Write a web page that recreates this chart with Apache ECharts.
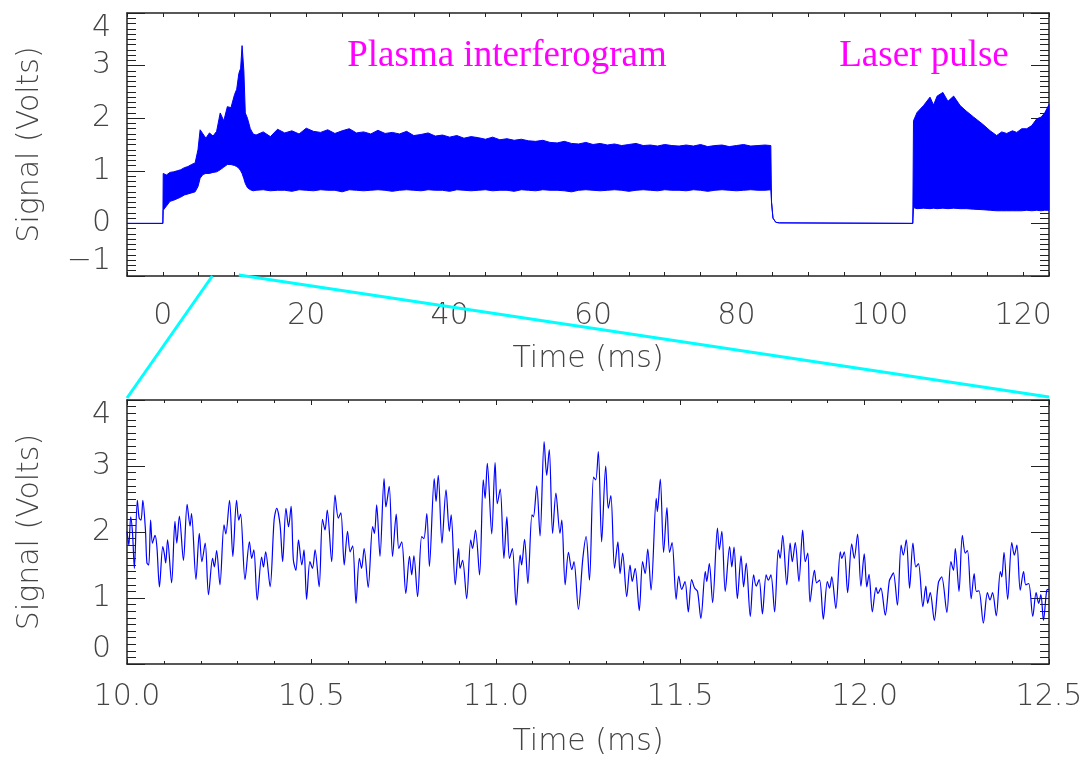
<!DOCTYPE html>
<html>
<head>
<meta charset="utf-8">
<script src="https://cdn.jsdelivr.net/npm/echarts@6/dist/echarts.min.js"></script>
<style>
html, body { margin: 0; background: #fff; }
#chart { width: 1090px; height: 760px; }
</style>
</head>
<body>
<div id="chart"></div>
<script>
// upper panel: envelope of the dense interferogram trace (ms, volts)
var topTime = [-5, 0,
  0.05, 0.5, 1, 1.5, 2, 2.5, 3, 3.5, 4, 4.5, 4.9, 5.2, 5.6, 6, 6.5, 7, 7.5, 8, 8.5, 9, 9.5, 10, 10.3, 10.6, 10.85, 11.05, 11.3, 11.5, 11.8, 12.2, 12.6,
  13, 14, 15, 16, 17, 18, 19, 20, 21, 22, 23, 24, 25, 26, 27, 28, 29, 30, 31, 32,
  33, 34, 35, 36, 37, 38, 39, 40, 41, 42, 43, 44, 45, 46, 47, 48, 49, 50, 51, 52,
  53, 54, 55, 56, 57, 58, 59, 60, 61, 62, 63, 64, 65, 66, 67, 68, 69, 70, 71, 72,
  73, 74, 75, 76, 77, 78, 79, 80, 81, 82, 83, 84, 84.8,
  84.9, 85.1, 85.5, 86, 104.6,
  104.7, 105.2, 106.1, 107, 107.5, 108, 108.8, 109.5, 110.3, 111.2, 112.1, 113.1, 114.4, 115.4, 116.3,
  117, 117.7, 118.5, 119.1, 119.8, 120.5, 121.2, 121.9, 122.5, 123, 123.6];
var topUpper = [0, 0,
  0.95, 0.92, 0.97, 0.98, 1.00, 1.02, 1.06, 1.08, 1.12, 1.15, 1.40, 1.78, 1.70, 1.62, 1.72, 1.66, 1.75, 2.10, 1.95, 2.22, 2.20, 2.45, 2.55, 2.85, 2.95, 3.38, 2.90, 2.10, 2.00, 1.80, 1.70,
  1.68, 1.74, 1.65, 1.79, 1.72, 1.76, 1.70, 1.81, 1.75, 1.73, 1.78, 1.71, 1.76, 1.80, 1.72, 1.74, 1.70, 1.77, 1.71, 1.73,
  1.70, 1.75, 1.67, 1.69, 1.72, 1.66, 1.68, 1.64, 1.67, 1.62, 1.65, 1.63, 1.60, 1.64, 1.59, 1.61, 1.58, 1.60, 1.57, 1.56,
  1.58, 1.54, 1.53, 1.56, 1.52, 1.51, 1.54, 1.50, 1.52, 1.49, 1.51, 1.48, 1.50, 1.52, 1.48, 1.49, 1.47, 1.50, 1.48, 1.47,
  1.49, 1.47, 1.50, 1.46, 1.48, 1.49, 1.46, 1.48, 1.50, 1.47, 1.48, 1.49, 1.48,
  0.40, 0.10, 0.02, 0.01, 0,
  1.95, 2.11, 2.24, 2.40, 2.25, 2.42, 2.49, 2.32, 2.42, 2.24, 2.13, 2.02, 1.88, 1.76, 1.67,
  1.74, 1.71, 1.76, 1.73, 1.80, 1.80, 1.86, 1.99, 2.02, 2.10, 2.26];
var topLower = [0, 0,
  0.25, 0.33, 0.42, 0.44, 0.47, 0.50, 0.54, 0.56, 0.58, 0.60, 0.70, 0.86, 0.93, 0.95, 0.95, 0.97, 0.98, 1.02, 1.07, 1.12, 1.12, 1.10, 1.08, 1.05, 1.00, 0.95, 0.85, 0.76, 0.68, 0.64, 0.62,
  0.63, 0.64, 0.62, 0.63, 0.63, 0.61, 0.64, 0.63, 0.62, 0.64, 0.63, 0.63, 0.60, 0.64, 0.63, 0.62, 0.63, 0.64, 0.63, 0.61,
  0.63, 0.64, 0.63, 0.62, 0.64, 0.63, 0.63, 0.61, 0.64, 0.63, 0.62, 0.63, 0.64, 0.62, 0.63, 0.63, 0.61, 0.64, 0.63, 0.62,
  0.64, 0.63, 0.63, 0.62, 0.60, 0.63, 0.64, 0.63, 0.62, 0.63, 0.64, 0.63, 0.61, 0.63, 0.64, 0.63, 0.62, 0.64, 0.63, 0.63,
  0.62, 0.64, 0.63, 0.61, 0.63, 0.64, 0.63, 0.62, 0.63, 0.64, 0.63, 0.63, 0.64,
  0.40, 0.10, 0.02, 0.01, 0,
  0.30, 0.28, 0.29, 0.28, 0.29, 0.28, 0.29, 0.28, 0.29, 0.28, 0.28, 0.27, 0.26, 0.25, 0.24,
  0.24, 0.24, 0.24, 0.24, 0.24, 0.25, 0.24, 0.25, 0.24, 0.25, 0.25];

// lower panel: zoom on 10.0 - 12.5 ms
var zoomTime = [
  10.000, 10.005, 10.010, 10.015, 10.020, 10.028, 10.033, 10.038, 10.043, 10.050,
  10.054, 10.059, 10.064, 10.069, 10.076, 10.081, 10.088, 10.097, 10.101, 10.105,
  10.110, 10.121, 10.130, 10.135, 10.142, 10.153, 10.163, 10.171, 10.175, 10.187,
  10.196, 10.203, 10.212, 10.221, 10.232, 10.237, 10.243, 10.252, 10.263, 10.268,
  10.278, 10.287, 10.297, 10.303, 10.308, 10.320, 10.332, 10.338, 10.344, 10.353,
  10.365, 10.370, 10.376, 10.388, 10.399, 10.406, 10.415, 10.422, 10.431, 10.438,
  10.445, 10.451, 10.458, 10.465, 10.474, 10.480, 10.487, 10.496, 10.503, 10.510,
  10.521, 10.530, 10.537, 10.543, 10.555, 10.564, 10.573, 10.580, 10.589, 10.598,
  10.605, 10.612, 10.621, 10.630, 10.636, 10.643, 10.654, 10.666, 10.671, 10.677,
  10.686, 10.697, 10.702, 10.711, 10.720, 10.730, 10.737, 10.745, 10.756, 10.766,
  10.772, 10.778, 10.788, 10.799, 10.805, 10.813, 10.820, 10.833, 10.838, 10.844,
  10.854, 10.865, 10.874, 10.879, 10.890, 10.899, 10.903, 10.910, 10.921, 10.932,
  10.937, 10.945, 10.956, 10.966, 10.971, 10.977, 10.989, 10.998, 11.004, 11.012,
  11.022, 11.030, 11.037, 11.045, 11.055, 11.066, 11.070, 11.078, 11.087, 11.098,
  11.102, 11.111, 11.120, 11.131, 11.138, 11.145, 11.154, 11.163, 11.174, 11.179,
  11.188, 11.197, 11.206, 11.212, 11.224,
  11.236, 11.245, 11.254, 11.265, 11.271, 11.278, 11.287, 11.298, 11.305, 11.312,
  11.322, 11.331, 11.337, 11.344, 11.355, 11.364, 11.370, 11.378, 11.389, 11.398,
  11.405, 11.412, 11.421, 11.435, 11.438, 11.446, 11.455, 11.464, 11.471, 11.478,
  11.489, 11.496, 11.504, 11.513, 11.522, 11.531, 11.539, 11.547, 11.556, 11.568,
  11.572, 11.579, 11.588, 11.601, 11.606, 11.613, 11.622, 11.634, 11.640, 11.646,
  11.655, 11.665, 11.672, 11.679, 11.690, 11.699, 11.706, 11.714, 11.723, 11.733,
  11.739, 11.746, 11.756, 11.766, 11.771, 11.778, 11.789, 11.798, 11.804, 11.812,
  11.822, 11.832, 11.839, 11.846,
  11.852, 11.864, 11.870, 11.878, 11.888, 11.899, 11.905, 11.911, 11.922, 11.934,
  11.938, 11.945, 11.954, 11.965, 11.972, 11.981, 11.990, 11.999, 12.006, 12.012,
  12.021, 12.031, 12.036, 12.044, 12.056, 12.067, 12.072, 12.078, 12.089, 12.099,
  12.105, 12.113, 12.122, 12.131, 12.139, 12.146, 12.158, 12.166, 12.171, 12.178,
  12.189, 12.200, 12.209, 12.223, 12.234, 12.241, 12.246, 12.256, 12.265, 12.273,
  12.279, 12.289, 12.297, 12.303, 12.310, 12.322, 12.333, 12.340, 12.347, 12.357,
  12.368, 12.372, 12.378, 12.388, 12.399, 12.406, 12.413, 12.422, 12.431, 12.437,
  12.445, 12.456, 12.465, 12.472, 12.478, 12.485, 12.494, 12.500];
var zoomSignal = [
  2.01, 1.80, 2.23, 1.98, 1.45, 2.48, 2.21, 2.18, 2.48, 2.03,
  1.53, 1.50, 2.18, 1.83, 1.95, 1.78, 1.17, 1.78, 1.68, 1.53,
  1.88, 1.23, 2.16, 1.83, 2.24, 1.57, 2.42, 2.09, 2.28, 1.28,
  1.98, 1.55, 1.83, 1.05, 1.60, 1.47, 1.72, 1.20, 2.11, 1.97,
  2.48, 1.63, 2.48, 2.18, 2.27, 1.28, 1.85, 1.60, 1.73, 0.97,
  1.62, 1.47, 1.70, 1.17, 2.19, 2.36, 2.11, 1.55, 2.36, 2.08,
  2.39, 1.58, 1.42, 1.88, 1.50, 1.73, 0.98, 1.55, 1.45, 1.73,
  1.17, 2.19, 2.03, 2.33, 1.55, 2.56, 2.21, 2.29, 1.50, 2.01,
  1.70, 1.79, 0.92, 1.60, 1.45, 1.75, 1.16, 2.08, 1.98, 2.41,
  1.63, 2.81, 2.38, 2.69, 1.63, 2.27, 1.75, 1.85, 1.07, 1.63,
  1.35, 1.64, 1.02, 1.93, 1.90, 2.28, 1.48, 2.81, 2.46, 2.86,
  1.83, 2.64, 2.01, 2.26, 1.20, 1.75, 1.45, 1.57, 0.99, 1.88,
  1.75, 2.03, 1.35, 2.79, 2.51, 3.04, 1.97, 3.05, 2.43, 2.65,
  1.60, 2.23, 1.60, 1.75, 0.89, 1.65, 1.50, 1.89, 1.22, 2.26,
  2.23, 2.70, 1.94, 3.37, 2.86, 3.25, 1.98, 2.59, 1.98, 2.18,
  1.20, 1.69, 1.43, 1.55, 0.83,
  1.60, 1.93, 1.27, 2.83, 2.79, 3.22, 1.85, 3.00, 2.36, 2.55,
  1.45, 1.85, 1.37, 1.68, 1.02, 1.50, 1.25, 1.45, 0.81, 1.55,
  1.37, 1.74, 1.12, 2.51, 2.31, 2.80, 1.69, 2.37, 1.69, 1.84,
  0.98, 1.33, 1.13, 1.25, 0.79, 1.28, 1.15, 1.10, 0.69, 1.40,
  1.25, 1.52, 0.93, 2.06, 1.73, 2.01, 1.10, 1.78, 1.47, 1.77,
  0.99, 1.64, 1.17, 1.53, 0.72, 1.35, 1.18, 1.28, 0.76, 1.35,
  1.27, 1.35, 0.79, 1.73, 1.60, 1.95, 1.20, 1.83, 1.55, 1.84,
  1.25, 2.03, 1.55, 1.68,
  0.94, 1.42, 1.23, 1.27, 0.68, 1.25, 1.15, 1.32, 0.84, 1.70,
  1.60, 1.70, 1.08, 1.82, 1.60, 1.97, 1.18, 1.67, 1.17, 1.36,
  0.79, 1.16, 1.07, 1.15, 0.74, 1.26, 1.32, 1.38, 0.89, 1.80,
  1.65, 1.88, 1.15, 1.83, 1.47, 1.52, 0.87, 1.18, 0.92, 1.08,
  0.66, 1.23, 1.32, 0.78, 1.55, 1.42, 1.75, 1.10, 1.95, 1.68,
  1.72, 0.99, 1.37, 1.10, 1.11, 0.62, 1.08, 0.97, 1.08, 0.73,
  1.40, 1.32, 1.69, 0.98, 1.84, 1.65, 1.80, 1.12, 1.40, 1.20,
  1.22, 0.72, 1.08, 0.92, 1.05, 0.66, 1.12, 1.13];

var annotations = ['Plasma interferogram', 'Laser pulse'];

var font = "'DejaVu Sans', sans-serif";
var textColor = '#444';
var lineColor = '#222';
var blue = '#0000ff';

function tickText(v) {
  return String(v).replace('-', '\u2212');
}

function frameX(grid, pos, min, max, interval, major, minor, label) {
  return {
    type: 'value', gridIndex: grid, position: pos, min: min, max: max, interval: interval,
    axisLine: { show: true, onZero: false, lineStyle: { color: lineColor, width: 1.5 } },
    axisTick: { show: true, inside: true, length: major, lineStyle: { color: lineColor } },
    minorTick: { show: minor > 0, splitNumber: minor, length: 3, lineStyle: { color: lineColor } },
    splitLine: { show: false },
    axisLabel: label ? label : { show: false }
  };
}

function frameY(grid, pos, min, max, label) {
  return {
    type: 'value', gridIndex: grid, position: pos, min: min, max: max, interval: 1,
    axisLine: { show: true, onZero: false, lineStyle: { color: lineColor, width: 1.5 } },
    axisTick: { show: true, inside: true, length: 18, lineStyle: { color: lineColor } },
    minorTick: { show: true, splitNumber: 10, length: 9, lineStyle: { color: lineColor } },
    splitLine: { show: false },
    axisLabel: label ? label : { show: false }
  };
}

var labelStyle = { fontSize: 30, color: textColor, fontFamily: font, fontWeight: 200 };
var nameStyle = { fontSize: 30, color: textColor, fontFamily: font, fontWeight: 200 };

var topX = frameX(0, 'bottom', -5, 123.6, 5, 4, 0, Object.assign({
  margin: 25,
  formatter: function (v) { return v % 20 === 0 ? tickText(v) : ''; }
}, labelStyle));
topX.name = 'Time (ms)';
topX.nameLocation = 'middle';
topX.nameGap = 68;
topX.nameTextStyle = nameStyle;

var topY = frameY(0, 'left', -1, 4, Object.assign({
  margin: 16, verticalAlignMaxLabel: 'top', verticalAlignMinLabel: 'bottom',
  formatter: tickText
}, labelStyle));
topY.name = 'Signal (Volts)';
topY.nameLocation = 'middle';
topY.nameGap = 82;
topY.nameTextStyle = nameStyle;

var botX = frameX(1, 'bottom', 10, 12.5, 0.5, 5, 5, Object.assign({
  margin: 18,
  formatter: function (v) { return v.toFixed(1); }
}, labelStyle));
botX.name = 'Time (ms)';
botX.nameLocation = 'middle';
botX.nameGap = 63;
botX.nameTextStyle = nameStyle;

var botY = frameY(1, 'left', 0, 4, Object.assign({
  margin: 16, verticalAlignMaxLabel: 'top', verticalAlignMinLabel: 'bottom',
  formatter: tickText
}, labelStyle));
botY.name = 'Signal (Volts)';
botY.nameLocation = 'middle';
botY.nameGap = 82;
botY.nameTextStyle = nameStyle;

var envData = topTime.map(function (t, i) { return [t, topLower[i], topUpper[i]]; });
var zoomData = zoomTime.map(function (t, i) { return [t, zoomSignal[i]]; });

// the dense trace is drawn as one filled band between its envelopes
function renderEnvelope(params, api) {
  if (params.dataIndex !== 0) return null;
  var pts = [];
  for (var i = 0; i < topTime.length; i++) pts.push(api.coord([topTime[i], topUpper[i]]));
  for (var j = topTime.length - 1; j >= 0; j--) pts.push(api.coord([topTime[j], topLower[j]]));
  return {
    type: 'polygon',
    shape: { points: pts },
    style: { fill: blue, stroke: blue, lineWidth: 1 }
  };
}

var chart = echarts.init(document.getElementById('chart'));
var option = {
  animation: false,
  backgroundColor: '#fff',
  grid: [
    { left: 127, top: 13, width: 922, height: 263 },
    { left: 127, top: 400, width: 922, height: 264 }
  ],
  xAxis: [
    topX,
    frameX(0, 'top', -5, 123.6, 5, 4, 0),
    botX,
    frameX(1, 'top', 10, 12.5, 0.5, 5, 5)
  ],
  yAxis: [
    topY,
    frameY(0, 'right', -1, 4),
    botY,
    frameY(1, 'right', 0, 4)
  ],
  series: [
    {
      name: 'interferogram', type: 'custom', coordinateSystem: 'cartesian2d',
      xAxisIndex: 0, yAxisIndex: 0,
      encode: { x: 0, y: [1, 2] },
      data: envData,
      renderItem: renderEnvelope
    },
    {
      name: 'zoom', type: 'line', xAxisIndex: 2, yAxisIndex: 2,
      data: zoomData, showSymbol: false, symbol: 'none', smooth: 0.3,
      lineStyle: { color: blue, width: 1.2 }
    }
  ]
};
chart.setOption(option);

// cyan lines linking the zoomed window to the lower panel
var a1 = chart.convertToPixel({ gridIndex: 0 }, [6.9, -1]);
var a2 = chart.convertToPixel({ gridIndex: 0 }, [10.6, -1]);
var b1 = chart.convertToPixel({ gridIndex: 1 }, [10, 4]);
var b2 = chart.convertToPixel({ gridIndex: 1 }, [12.5, 4]);

chart.setOption({
  graphic: [
    { type: 'line', z: 10, shape: { x1: a1[0], y1: a1[1], x2: b1[0], y2: b1[1] - 2 },
      style: { stroke: '#00ffff', lineWidth: 3 } },
    { type: 'line', z: 10, shape: { x1: a2[0], y1: a2[1] - 1, x2: b2[0], y2: b2[1] - 3 },
      style: { stroke: '#00ffff', lineWidth: 3 } },
    { type: 'text', z: 10, x: 507, y: 56,
      style: { text: annotations[0], fill: '#ff00ff', font: "37px 'Liberation Serif', serif", textAlign: 'center', textVerticalAlign: 'middle' } },
    { type: 'text', z: 10, x: 924, y: 56,
      style: { text: annotations[1], fill: '#ff00ff', font: "37px 'Liberation Serif', serif", textAlign: 'center', textVerticalAlign: 'middle' } }
  ]
});
</script>
</body>
</html>
